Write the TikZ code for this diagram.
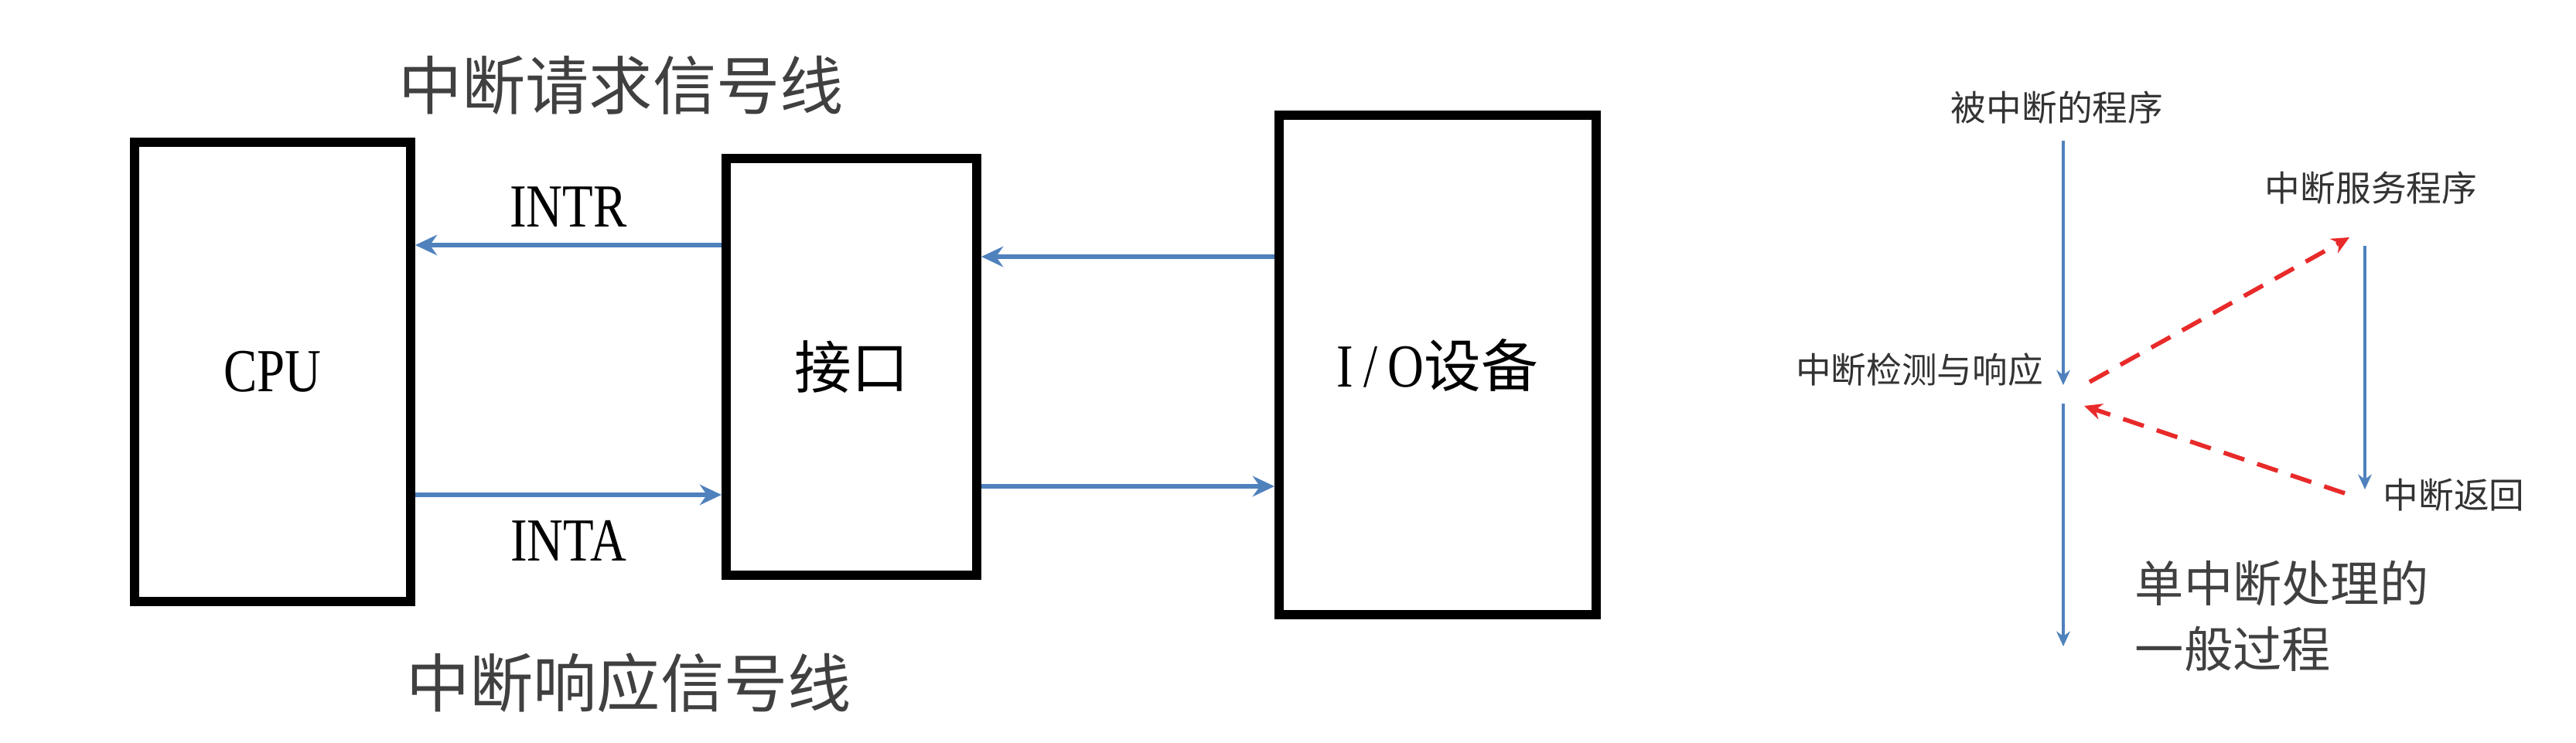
\documentclass[tikz,border=0pt]{standalone}
\usepackage{fontspec}
\usepackage{xcolor}
\usetikzlibrary{arrows.meta}
\newfontfamily\cjk{Noto Sans CJK SC}
\newfontfamily\latin[FakeStretch=0.82]{Liberation Serif}
\definecolor{sigblue}{HTML}{4F81BD}
\definecolor{jumpred}{HTML}{E82A2A}
\definecolor{txtgray}{HTML}{404040}

\begin{document}
\begin{tikzpicture}[>={Stealth[length=8pt,width=7.5pt]},
    box/.style={draw, line width=3.4pt, inner sep=0pt},
    sig/.style={->, draw=sigblue, line width=1.9pt},
    flow/.style={-{Stealth[length=5.5pt,width=5pt]}, draw=sigblue, line width=1.2pt},
    jump/.style={-{Stealth[length=6.5pt,width=6pt]}, draw=jumpred, line width=1.6pt, dash pattern=on 8pt off 5pt},
    title/.style={font=\cjk\fontsize{23.4}{28}\selectfont, text=txtgray},
    sigtag/.style={font=\latin\fontsize{22.5}{26}\selectfont, inner sep=0pt},
    tag/.style={font=\cjk\fontsize{13}{16}\selectfont, text=black!80}]
    \useasboundingbox (0,0) rectangle (33.31,9.6);

    % CPU -- 接口 -- I/O设备
    \node[title] (reqline) at (8.03, 8.50) {中断请求信号线};
    \node[title] (ackline) at (8.13, 0.77) {中断响应信号线};
    \node[box, minimum width=3.57cm, minimum height=5.94cm, font=\latin\fontsize{22.5}{26}\selectfont] (cpu) at (3.525, 4.79) {CPU};
    \node[box, minimum width=3.24cm, minimum height=5.39cm, font=\cjk\fontsize{21}{25}\selectfont] (port) at (11.01, 4.855) {接口};
    \node[box, minimum width=4.10cm, minimum height=6.46cm, font=\cjk\fontsize{21}{25}\selectfont] (dev) at (18.59, 4.88) {{\latin\fontsize{22.5}{26}\selectfont I\,/\,O}设备};

    \coordinate (rq) at (0, 6.43);
    \coordinate (ak) at (0, 3.20);
    \coordinate (din) at (0, 6.28);
    \coordinate (dout) at (0, 3.31);

    \draw[sig] (port.west |- rq) -- (cpu.east |- rq) node[sigtag, midway, above=0.2cm] {INTR};
    \draw[sig] (cpu.east |- ak) -- (port.west |- ak) node[sigtag, midway, below=0.3cm] {INTA};
    \draw[sig] (dev.west |- din) -- (port.east |- din);
    \draw[sig] (port.east |- dout) -- (dev.west |- dout);

    % 单中断处理
    \node[tag] (prog) at (26.60, 8.21) {被中断的程序};
    \node[tag] (detect) at (24.82, 4.82) {中断检测与响应};
    \node[tag] (isr) at (30.66, 7.17) {中断服务程序};
    \node[tag] (iret) at (31.73, 3.20) {中断返回};
    \node[font=\cjk\fontsize{18}{24}\selectfont, text=txtgray, anchor=west, align=left, inner sep=0pt] (note) at (27.60, 1.63) {单中断处理的\\一般过程};

    \coordinate (top) at (26.68, 7.78);
    \coordinate (hit) at (26.68, 4.62);
    \coordinate (resume) at (26.68, 4.38);
    \coordinate (bottom) at (26.68, 1.24);
    \coordinate (svc) at (30.58, 6.42);
    \coordinate (ret) at (30.58, 3.27);
    \coordinate (go) at (27.02, 4.66);
    \coordinate (enter) at (30.38, 6.53);
    \coordinate (leave) at (30.32, 3.22);
    \coordinate (back) at (26.95, 4.35);

    \draw[flow] (top) -- (hit);
    \draw[flow] (resume) -- (bottom);
    \draw[flow] (svc) -- (ret);
    \draw[jump] (go) -- (enter);
    \draw[jump] (leave) -- (back);
\end{tikzpicture}
\end{document}
